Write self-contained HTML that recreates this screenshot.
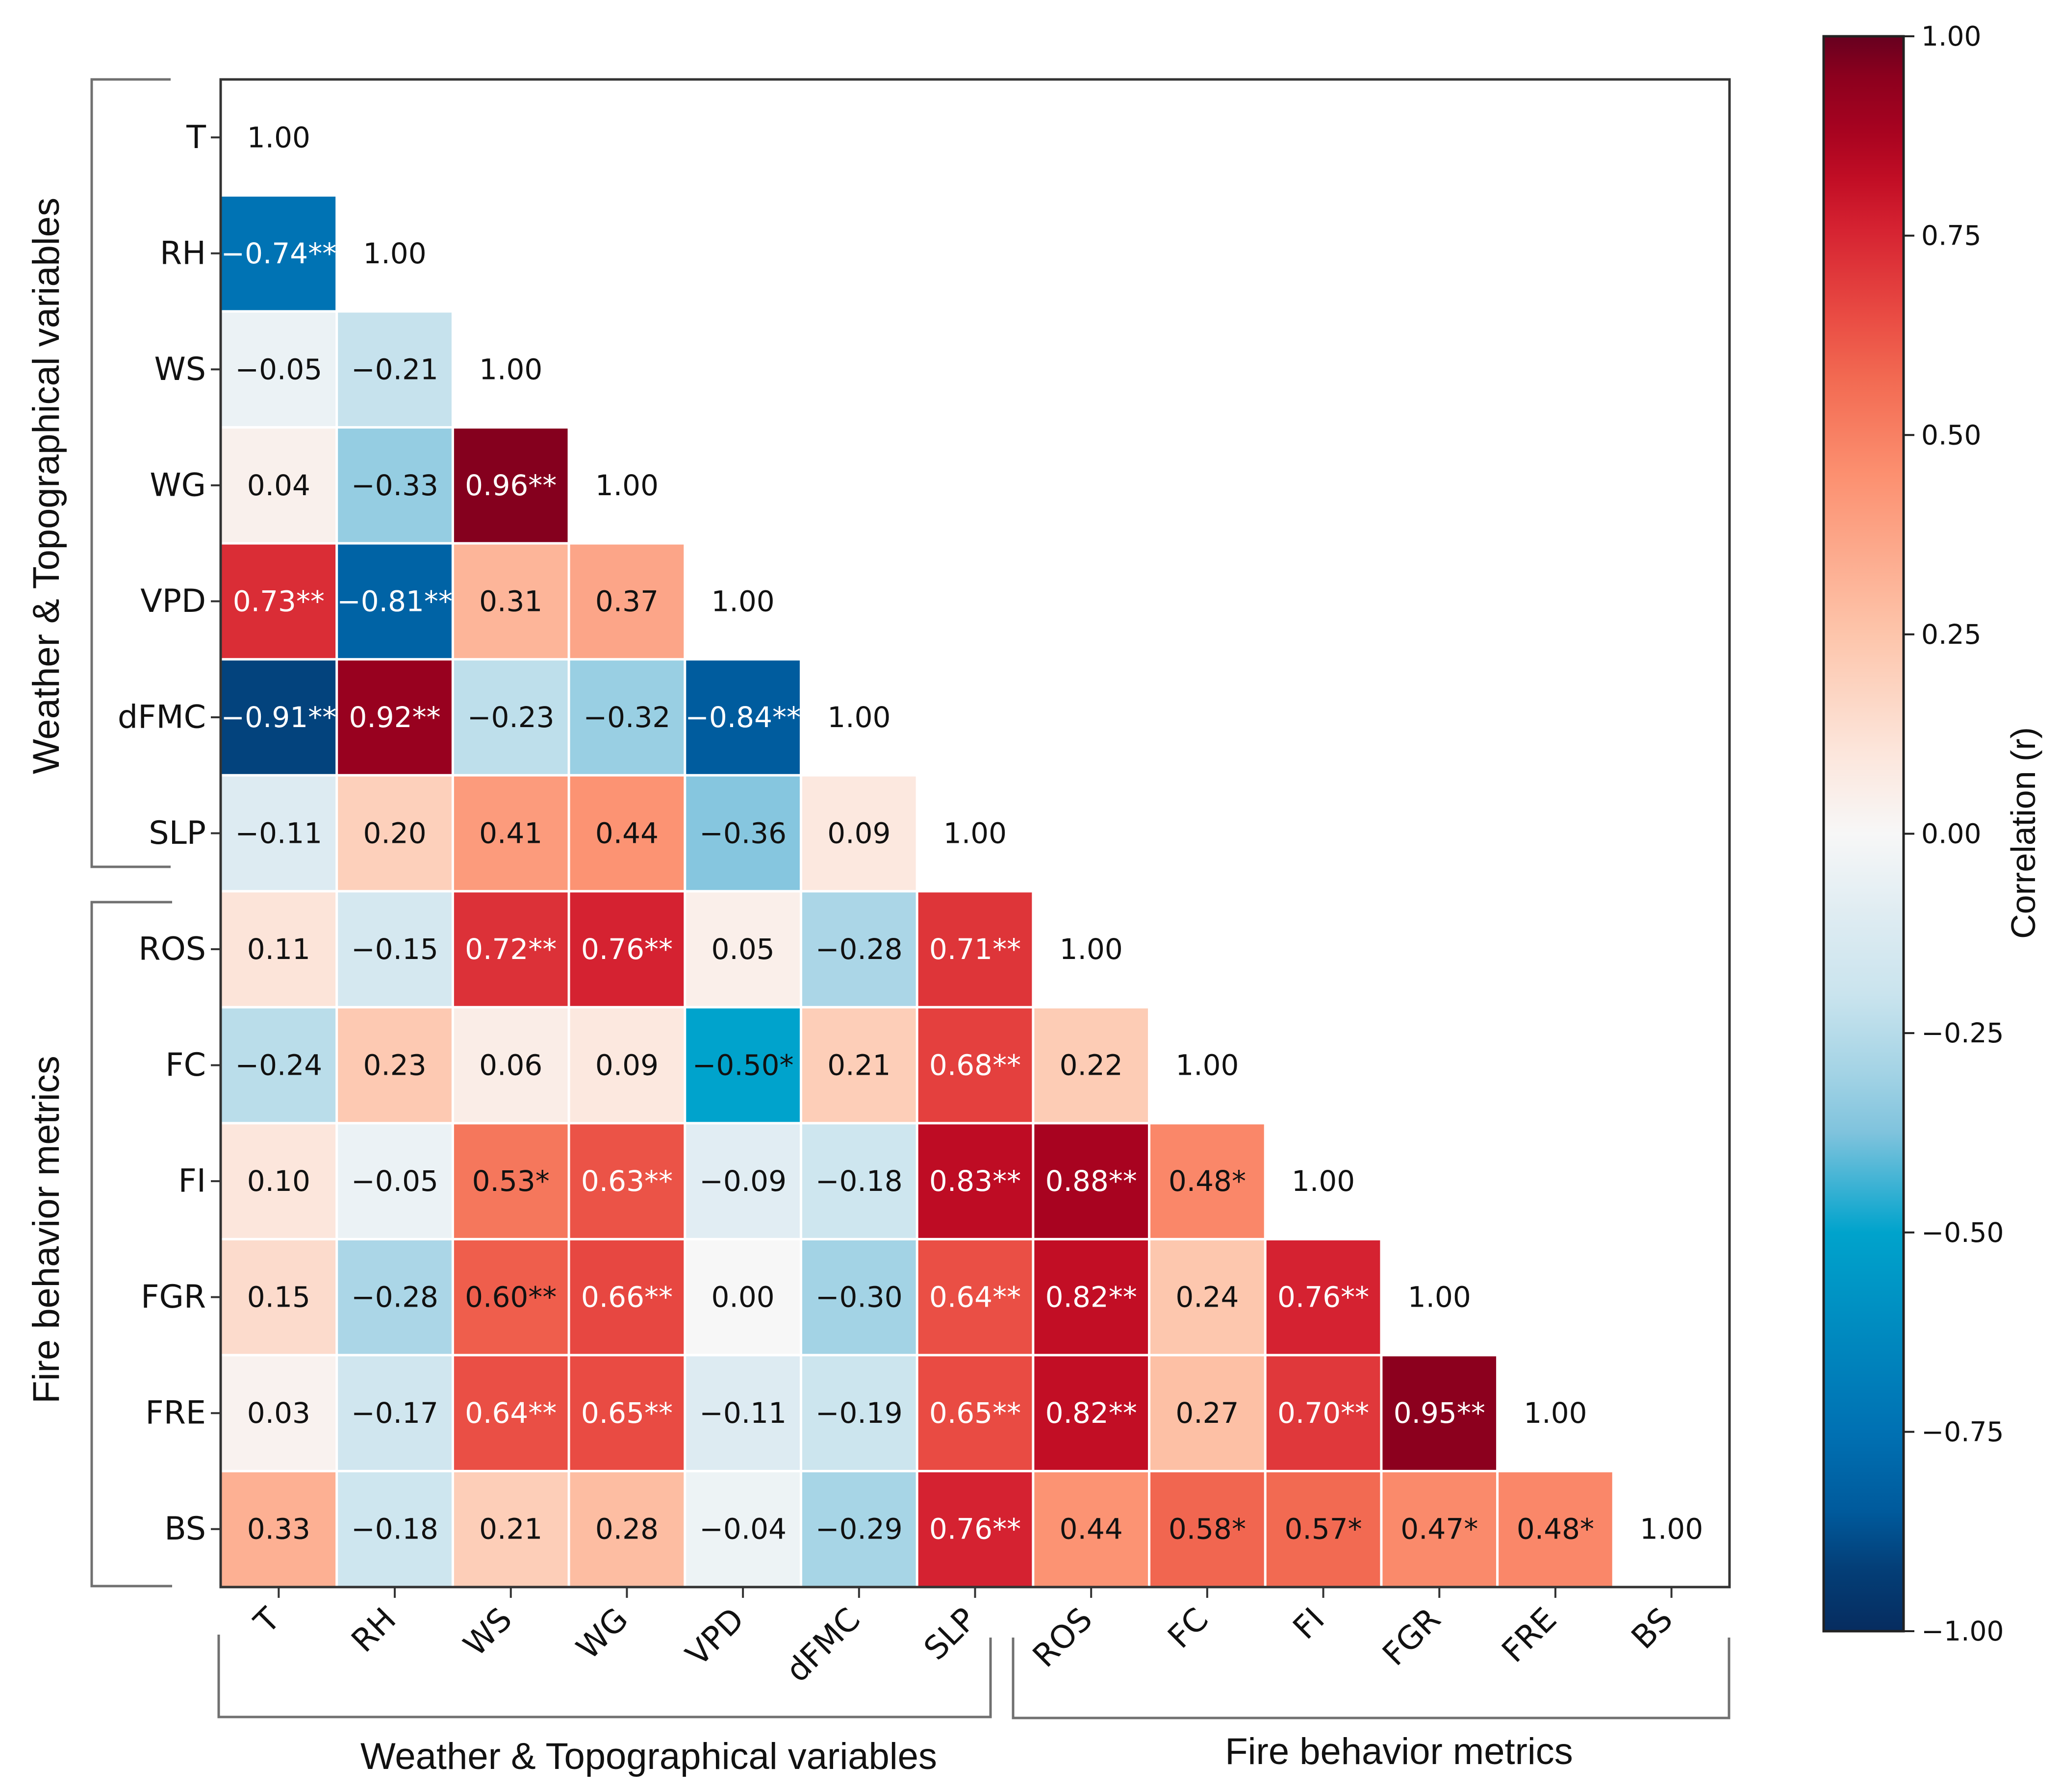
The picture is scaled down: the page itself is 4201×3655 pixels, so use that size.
<!DOCTYPE html>
<html><head><meta charset="utf-8"><style>
html,body{margin:0;padding:0;background:#fff;}
svg{display:block;}
</style></head><body>
<svg id="chart" xmlns="http://www.w3.org/2000/svg" width="4201" height="3655" viewBox="0 0 4201 3655">
<rect x="0" y="0" width="4201" height="3655" fill="#fff"/>
<g id="cells"></g>
<g id="axes"></g>
<rect x="450" y="162" width="3077" height="3075" fill="none" stroke="#333" stroke-width="5"/>
<g fill="none" stroke="#707070" stroke-width="5">
<path d="M348 162 H187 V1768 H348"/>
<path d="M351 1840 H187 V3235 H351"/>
<path d="M446 3334 V3502 H2020 V3340"/>
<path d="M2066 3340 V3504 H3526 V3340"/>
</g>
<text transform="translate(120,991) rotate(-90)" text-anchor="middle" font-family="Liberation Sans, sans-serif" font-size="76" fill="#111">Weather &amp; Topographical variables</text>
<text transform="translate(120,2508) rotate(-90)" text-anchor="middle" font-family="Liberation Sans, sans-serif" font-size="76" fill="#111">Fire behavior metrics</text>
<text x="1323" y="3608" text-anchor="middle" font-family="Liberation Sans, sans-serif" font-size="76" fill="#111">Weather &amp; Topographical variables</text>
<text x="2853" y="3598" text-anchor="middle" font-family="Liberation Sans, sans-serif" font-size="76" fill="#111">Fire behavior metrics</text>
<defs><linearGradient id="cbgrad" x1="0" y1="1" x2="0" y2="0"></linearGradient></defs>
<g id="colorbar"></g>
</svg>
<script>
const labels = ["T","RH","WS","WG","VPD","dFMC","SLP","ROS","FC","FI","FGR","FRE","BS"];
const values = [
 [1],
 [-0.74,1],
 [-0.05,-0.21,1],
 [0.04,-0.33,0.96,1],
 [0.73,-0.81,0.31,0.37,1],
 [-0.91,0.92,-0.23,-0.32,-0.84,1],
 [-0.11,0.20,0.41,0.44,-0.36,0.09,1],
 [0.11,-0.15,0.72,0.76,0.05,-0.28,0.71,1],
 [-0.24,0.23,0.06,0.09,-0.50,0.21,0.68,0.22,1],
 [0.10,-0.05,0.53,0.63,-0.09,-0.18,0.83,0.88,0.48,1],
 [0.15,-0.28,0.60,0.66,0.00,-0.30,0.64,0.82,0.24,0.76,1],
 [0.03,-0.17,0.64,0.65,-0.11,-0.19,0.65,0.82,0.27,0.70,0.95,1],
 [0.33,-0.18,0.21,0.28,-0.04,-0.29,0.76,0.44,0.58,0.57,0.47,0.48,1]
];
const sig = [
 [""],
 ["**",""],
 ["","",""],
 ["","","**",""],
 ["**","**","","",""],
 ["**","**","","","**",""],
 ["","","","","","",""],
 ["","","**","**","","","**",""],
 ["","","","","*","","**","",""],
 ["","","*","**","","","**","**","*",""],
 ["","","**","**","","","**","**","","**",""],
 ["","","**","**","","","**","**","","**","**",""],
 ["","","","","","","**","","*","*","*","*",""]
];
const cbTicks = [-1,-0.75,-0.5,-0.25,0,0.25,0.5,0.75,1];
const cmapPos = [-1,-0.92,-0.85,-0.75,-0.5,-0.375,-0.3,-0.2,-0.1,0,0.1,0.25,0.45,0.57,0.65,0.76,0.82,0.88,0.95,1];
const cmapCol = ["#062c5f","#043f78","#005a9c","#0071b3","#00a3cc","#7fc3dd","#a3d3e5","#cae4ee","#dfecf2","#f7f7f7","#fce6dc","#fdc5ab","#fc9070","#f26a52","#e94b43","#d52231","#c20e25","#a80320","#8c001e","#67001f"];

const NS="http://www.w3.org/2000/svg";
const X0=450, X1=3527, Y0=162, Y1=3237, N=labels.length;
const cw=(X1-X0)/N, ch=(Y1-Y0)/N;
const xPos=i=>X0+i*cw, yPos=i=>Y0+i*ch;
function hex(h){return [1,3,5].map(k=>parseInt(h.substr(k,2),16));}
function cmap(v){
  for(let k=0;k<cmapPos.length-1;k++){
    if(v<=cmapPos[k+1]){
      const t=(v-cmapPos[k])/(cmapPos[k+1]-cmapPos[k]);
      const a=hex(cmapCol[k]), b=hex(cmapCol[k+1]);
      return "rgb("+a.map((c,j)=>Math.round(c+(b[j]-c)*t)).join(",")+")";
    }
  }
  return cmapCol[cmapCol.length-1];
}
function mk(tag,attrs,parent){const e=document.createElementNS(NS,tag);for(const k in attrs)e.setAttribute(k,attrs[k]);parent.appendChild(e);return e;}
const fmt=v=>(v<0?"\u2212":"")+Math.abs(v).toFixed(2);
const cells=document.getElementById("cells");
values.forEach((row,i)=>{
  row.forEach((v,j)=>{
    const diag=(i===j);
    if(!diag){
      const r=mk("rect",{x:xPos(j)+2.5,y:yPos(i)+2.5,width:cw-5,height:ch-5,fill:cmap(v)},cells);
      
      
    }
    const light=!diag && Math.abs(v)>0.61;
    const t=mk("text",{x:xPos(j)+cw/2,y:yPos(i)+ch/2,"text-anchor":"middle","dominant-baseline":"central","font-family":"DejaVu Sans, sans-serif","font-size":"58",fill:light?"#fff":"#111"},cells);
    t.textContent=fmt(v)+(sig[i][j]||"");
    
    
  });
});
const axes=document.getElementById("axes");
labels.forEach((lab,i)=>{
  const cy=yPos(i)+ch/2;
  mk("line",{x1:X0-20,y1:cy,x2:X0,y2:cy,stroke:"#333","stroke-width":4},axes);
  const t=mk("text",{x:X0-30,y:cy,"text-anchor":"end","dominant-baseline":"central","font-family":"DejaVu Sans, sans-serif","font-size":"65",fill:"#111"},axes);
  t.textContent=lab;
  
  
  const cx=xPos(i)+cw/2;
  mk("line",{x1:cx,y1:Y1,x2:cx,y2:Y1+22,stroke:"#333","stroke-width":4},axes);
  const tx=mk("text",{transform:"translate("+(cx+6)+","+(Y1+70)+") rotate(-45)","text-anchor":"end","font-family":"DejaVu Sans, sans-serif","font-size":"65",fill:"#111"},axes);
  tx.textContent=lab;
  
  
});
const grad=document.getElementById("cbgrad");
cmapPos.forEach((p,k)=>{mk("stop",{offset:((p+1)/2),"stop-color":cmapCol[k]},grad);});
const cb=document.getElementById("colorbar");
const CX0=3719, CX1=3882, CY0=74, CY1=3327;
const cbY=v=>CY1-(v+1)/2*(CY1-CY0);
const bar=mk("rect",{x:CX0,y:CY0,width:CX1-CX0,height:CY1-CY0,fill:"url(#cbgrad)",stroke:"#222","stroke-width":5},cb);


cbTicks.forEach(v=>{
  const y=cbY(v);
  mk("line",{x1:CX1,y1:y,x2:CX1+22,y2:y,stroke:"#222","stroke-width":4},cb);
  const t=mk("text",{x:CX1+36,y:y,"dominant-baseline":"central","font-family":"DejaVu Sans, sans-serif","font-size":"55",fill:"#111"},cb);
  t.textContent=fmt(v);
  
  
});
const ct=mk("text",{transform:"translate(4150,1699) rotate(-90)","text-anchor":"middle","font-family":"Liberation Sans, sans-serif","font-size":"70",fill:"#111"},cb);
ct.textContent="Correlation (r)";


</script>
</body></html>
